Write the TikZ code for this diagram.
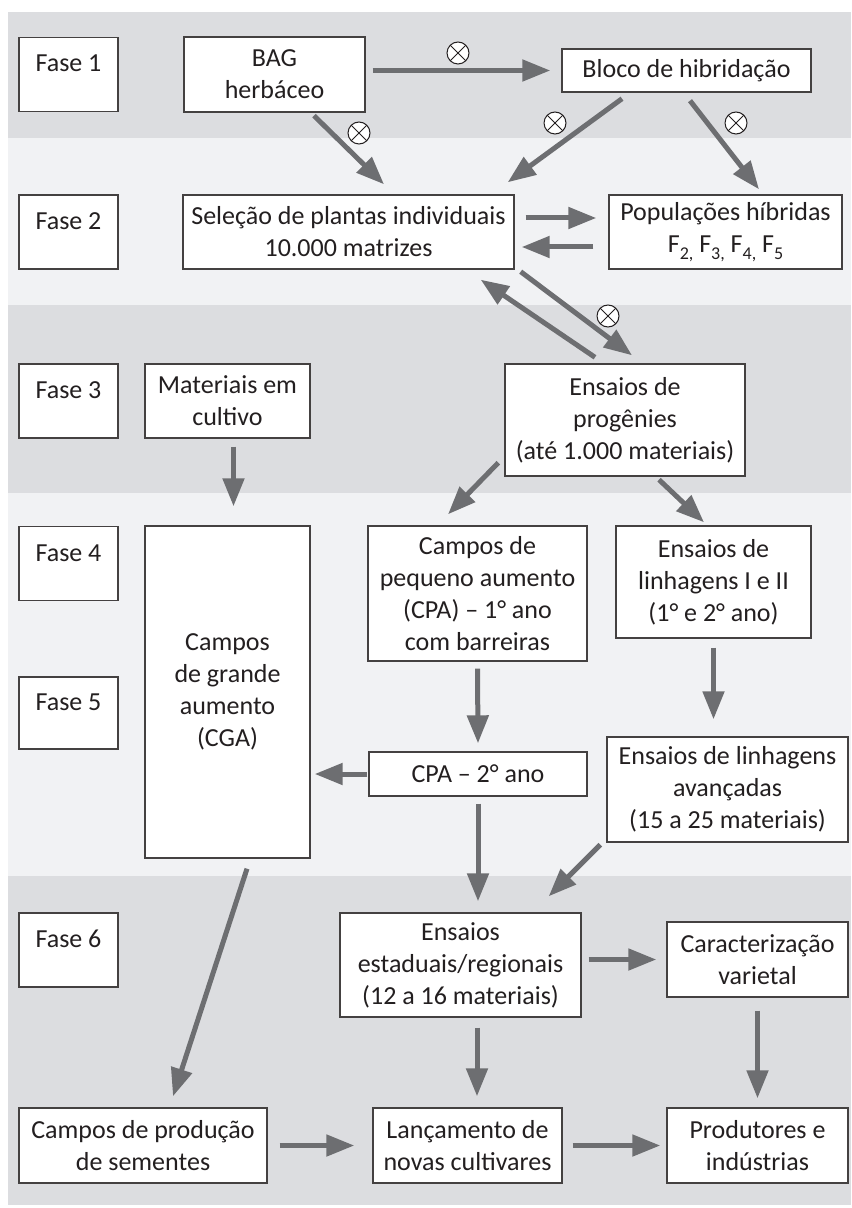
\documentclass[tikz,border=0pt]{standalone}
\usepackage{fontspec}
\setmainfont{Carlito}
\usetikzlibrary{arrows.meta,positioning}
\definecolor{faixaescura}{HTML}{DCDDE0}
\definecolor{faixaclara}{HTML}{F1F2F4}
\definecolor{cinzaseta}{HTML}{6D6E71}
\definecolor{texto}{HTML}{231F20}
\newcommand{\indice}[1]{\raisebox{-3.5pt}{\fontsize{9}{9}\selectfont #1}}

\begin{document}
\begin{tikzpicture}[x=0.5pt,y=-0.5pt,
	caixa/.style={draw=texto!85,fill=white,line width=0.7pt,inner sep=0,align=center,text=texto,font=\fontsize{13}{16}\selectfont},
	fase/.style={caixa,minimum width=49.5pt,minimum height=37pt,text height=9.5pt,text depth=12pt},
	seta/.style={draw=cinzaseta,line width=2.5pt,-{Triangle[length=14pt,width=10.5pt]}},
	cruz/.style={circle,draw=texto,fill=white,line width=0.5pt,minimum size=11pt,inner sep=0,
		path picture={\draw[line width=0.5pt,texto] (path picture bounding box.north west) -- (path picture bounding box.south east)
			(path picture bounding box.north east) -- (path picture bounding box.south west);}},
]
\useasboundingbox[fill=white] (0,0) rectangle (851,1208);
\fill[faixaescura] (8,12) rectangle (851,138);
\fill[faixaclara] (8,138) rectangle (851,305);
\fill[faixaescura] (8,305) rectangle (851,493);
\fill[faixaclara] (8,493) rectangle (851,876);
\fill[faixaescura] (8,876) rectangle (851,1205);

\node[fase] (fase1) at (68.5,74.5) {Fase 1};
\node[fase] (fase2) at (68.5,232) {Fase 2};
\node[fase] (fase3) at (68.5,401) {Fase 3};
\node[fase] (fase4) at (68.5,563.5) {Fase 4};
\node[fase,minimum height=36pt] (fase5) at (68.5,713) {Fase 5};
\node[fase] (fase6) at (68.5,950) {Fase 6};

\node[caixa,minimum width=90.5pt,minimum height=37.5pt] (bag) at (274.5,74.5) {BAG\\herbáceo};
\node[caixa,minimum width=124.5pt,minimum height=21.5pt] (bloco) at (686.5,70.5) {Bloco de hibridação};
\node[caixa,minimum width=165.5pt,minimum height=37pt] (selecao) at (348.5,232) {Seleção de plantas individuais\\10.000 matrizes};
\node[caixa,minimum width=116.5pt,minimum height=37pt] (pop) at (725.5,232) {Populações híbridas\\F\indice{2,} F\indice{3,} F\indice{4,} F\indice{5}};
\node[caixa,minimum width=82.5pt,minimum height=37pt] (materiais) at (227.5,401) {Materiais em\\cultivo};
\node[caixa,minimum width=120pt,minimum height=56pt] (progenies) at (625,420) {Ensaios de\\progênies\\(até 1.000 materiais)};
\node[caixa,minimum width=82.5pt,minimum height=166pt] (cga) at (227.5,692) {Campos\\de grande\\aumento\\(CGA)};
\node[caixa,minimum width=109.5pt,minimum height=67.5pt] (cpa1) at (477.5,593.5) {Campos de\\pequeno aumento\\(CPA) -- 1° ano\\com barreiras};
\node[caixa,minimum width=97.5pt,minimum height=56pt] (lin12) at (713.5,582) {Ensaios de\\linhagens I e II\\(1° e 2° ano)};
\node[caixa,minimum width=109pt,minimum height=22pt] (cpa2) at (478,774) {CPA -- 2° ano};
\node[caixa,minimum width=120.5pt,minimum height=52.5pt] (avanc) at (727.5,789.5) {Ensaios de linhagens\\avançadas\\(15 a 25 materiais)};
\node[caixa,minimum width=120.5pt,minimum height=52pt] (estad) at (460.5,965) {Ensaios\\estaduais/regionais\\(12 a 16 materiais)};
\node[caixa,minimum width=90.5pt,minimum height=37.5pt] (caract) at (757.5,959.5) {Caracterização\\varietal};
\node[caixa,minimum width=124pt,minimum height=37.5pt] (prod) at (143,1145.5) {Campos de produção\\de sementes};
\node[caixa,minimum width=94.5pt,minimum height=37.5pt] (lanc) at (467.5,1145.5) {Lançamento de\\novas cultivares};
\node[caixa,minimum width=90.5pt,minimum height=37.5pt] (produt) at (757.5,1145.5) {Produtores e\\indústrias};

\draw[seta] ([xshift=3.5pt]bag.east |- bloco.west) -- ([xshift=-5.5pt]bloco.west);
\draw[seta] ([xshift=5.5pt,yshift=7pt]selecao.east) -- ([xshift=-6pt,yshift=7pt]pop.west);
\draw[seta] ([xshift=-7.5pt,yshift=-7.5pt]pop.west) -- ([xshift=3.5pt,yshift=-7.5pt]selecao.east);
\draw[seta] ([xshift=19.75pt,yshift=-1.5pt]bag.south) -- ([xshift=17.75pt,yshift=5pt]selecao.north);
\draw[seta] ([xshift=-32.25pt,yshift=-3pt]bloco.south) -- ([xshift=-3.5pt,yshift=6pt]selecao.north east);
\draw[seta] ([xshift=1.75pt,yshift=-4pt]bloco.south) -- ([xshift=16.75pt,yshift=2.5pt]pop.north);
\draw[seta] ([xshift=3pt,yshift=-1pt]selecao.south east) -- ([xshift=3.5pt,yshift=4pt]progenies.north);
\draw[seta] ([xshift=-15pt,yshift=3pt]progenies.north) -- ([xshift=-17pt,yshift=-5pt]selecao.south east);
\draw[seta] ([xshift=3pt,yshift=-4pt]materiais.south) -- ([xshift=3pt,yshift=9.5pt]cga.north);
\draw[seta] ([xshift=-3pt,yshift=7pt]progenies.south west) -- ([xshift=-14.75pt,yshift=5.5pt]cpa1.north);
\draw[seta] ([xshift=17pt,yshift=-1.5pt]progenies.south) -- ([xshift=-4.75pt,yshift=1.5pt]lin12.north);
\draw[seta] ([yshift=-3.5pt]cpa1.south) -- ([yshift=4pt]cpa2.north);
\draw[seta] ([yshift=-4.5pt]lin12.south) -- ([yshift=8.5pt]lin12.south |- avanc.north);
\draw[seta] ([xshift=-0.5pt]cpa2.west) -- ([xshift=2pt]cga.east |- cpa2.west);
\draw[seta] ([yshift=-3.5pt]cpa2.south) -- ([yshift=5.5pt]cpa2.south |- estad.north);
\draw[seta] ([xshift=-3pt,yshift=-1pt]avanc.south west) -- ([xshift=-16.5pt,yshift=8pt]estad.north east);
\draw[seta] ([xshift=9.75pt,yshift=-5pt]cga.south) -- ([xshift=15pt,yshift=5.5pt]prod.north);
\draw[seta] ([xshift=3.5pt]estad.east |- caract.west) -- ([xshift=-5pt]caract.west);
\draw[seta] ([xshift=8.25pt,yshift=-5pt]estad.south) -- ([xshift=8.25pt,yshift=5.5pt]estad.south |- lanc.north);
\draw[seta] ([yshift=-6.5pt]caract.south) -- ([yshift=4.5pt]produt.north);
\draw[seta] ([xshift=6pt]prod.east) -- ([xshift=-9pt]lanc.west);
\draw[seta] ([xshift=5pt]lanc.east) -- ([xshift=-3pt]produt.west);

\node[cruz] (cruz1) at (458,53) {};
\node[cruz] (cruz2) at (359,133) {};
\node[cruz] (cruz3) at (555,123) {};
\node[cruz] (cruz4) at (736,123) {};
\node[cruz] (cruz5) at (608,316) {};
\end{tikzpicture}
\end{document}
